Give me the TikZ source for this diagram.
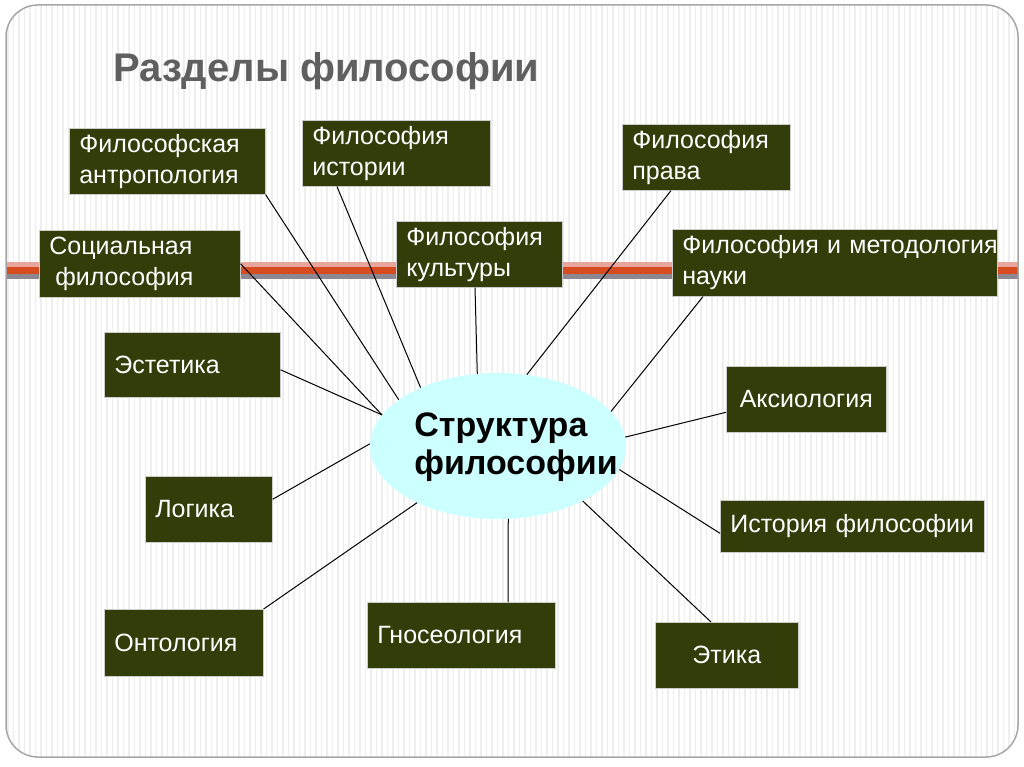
\documentclass[tikz,border=0pt]{standalone}
\usepackage{fontspec}
\setmainfont{Liberation Sans}
\usepackage{xcolor}
\usepackage{tikz}
\usetikzlibrary{shapes.geometric}
\definecolor{boxgreen}{RGB}{50,61,9}
\definecolor{corecyan}{RGB}{204,255,255}
\definecolor{titlegray}{RGB}{95,95,95}
\definecolor{bandred}{RGB}{214,76,32}
\definecolor{bandpink}{RGB}{232,165,155}
\definecolor{bandgray}{RGB}{140,135,145}

\begin{document}
\begin{tikzpicture}[
  x=1pt, y=-1pt,
  every node/.style={inner sep=0pt},
  branch/.style={draw=gray!40, line width=0.6pt, fill=boxgreen, text=white,
    font=\fontsize{25}{31}\selectfont, align=left, anchor=north west,
    inner xsep=10pt},
  link/.style={line width=1pt}
]
  \useasboundingbox (0,0) rectangle (1024,767);
  \begin{scope}
    \clip[rounded corners=32pt] (6,5) rectangle (1018,757);
    \foreach \x in {8,13.5,...,1018}
      \draw[gray!13, line width=1.3pt] (\x,5) -- (\x,757);
    \fill[bandpink] (6,262) rectangle (1018,267);
    \fill[bandred] (6,267) rectangle (1018,274);
    \fill[bandgray] (6,274) rectangle (1018,279);
  \end{scope}
  \draw[gray!70, line width=1.5pt, rounded corners=32pt] (6,5) rectangle (1018,757);

  \node[anchor=base west, text=titlegray, font=\bfseries\fontsize{40}{48}\selectfont] (title) at (113,82) {Разделы философии};

  \node[ellipse, fill=corecyan, minimum width=256pt, minimum height=146pt] (core) at (498,446) {};
  \node[align=left, font=\bfseries\fontsize{34}{38}\selectfont] (coretext) at (516,447) {Структура\\философии};

  \node[branch, text width=176pt, minimum height=66pt] (antro) at (69,128) {Философская\\антропология};
  \node[branch, text width=168pt, minimum height=66pt] (istorii) at (302,120) {Философия\\истории};
  \node[branch, text width=148pt, minimum height=66pt] (prava) at (622,124) {Философия\\права};
  \node[branch, text width=181pt, minimum height=67pt] (social) at (39,230) {Социальная\\\hspace{6pt}философия};
  \node[branch, text width=146pt, minimum height=66pt] (kultury) at (396,221) {Философия\\культуры};
  \node[branch, text width=305pt, minimum height=67pt] (nauki) at (672,229) {\mbox{Философия и методология}\\науки};
  \node[branch, text width=156pt, minimum height=65pt] (estetika) at (104,332) {Эстетика};
  \node[branch, text width=140pt, minimum height=66pt, align=center] (aksio) at (726,366) {Аксиология};
  \node[branch, text width=107pt, minimum height=66pt] (logika) at (145,476) {Логика};
  \node[branch, text width=244pt, minimum height=52pt] (istfil) at (720,500) {\mbox{История философии}};
  \node[branch, text width=139pt, minimum height=67pt] (ontologia) at (104,609) {Онтология};
  \node[branch, text width=168pt, minimum height=66pt] (gnoseo) at (367,602) {Гносеология};
  \node[branch, text width=123pt, minimum height=66pt, align=center] (etika) at (655,622) {Этика};

  \draw[link] (antro.south east) -- (core.155);
  \draw[link] ([xshift=35pt]istorii.south west) -- (core.143);
  \draw[link] (social.east) -- (core.165);
  \draw[link] ([yshift=-5pt]estetika.east) -- (core.165);
  \draw[link] ([xshift=79pt]kultury.south west) -- (core.106);
  \draw[link] ([xshift=49pt]prava.south west) -- (core.68);
  \draw[link] ([xshift=31pt]nauki.south west) -- (core.17);
  \draw[link] ([yshift=-13pt]aksio.west) -- (core.4);
  \draw[link] ([yshift=-7pt]istfil.west) -- (core.-11);
  \draw[link] ([xshift=56pt]etika.north west) -- (core.-33);
  \draw[link] ([xshift=141pt]gnoseo.north west) -- (core.-82);
  \draw[link] (ontologia.north east) -- (core.215);
  \draw[link] ([yshift=10pt]logika.east) -- (core.179);
\end{tikzpicture}
\end{document}
